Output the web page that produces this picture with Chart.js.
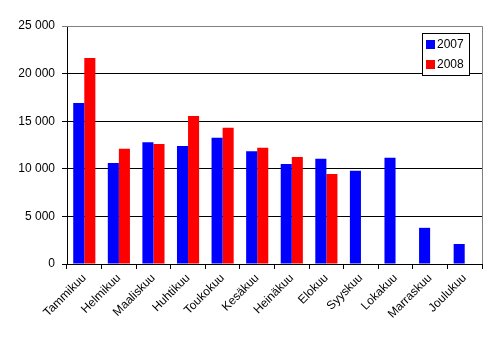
<!DOCTYPE html>
<html><head><meta charset="utf-8">
<script src="https://cdn.jsdelivr.net/npm/chart.js@4"></script>
<style>html,body{margin:0;padding:0;background:#fff}#wrap{width:497px;height:338px}</style>
</head><body><div id="wrap"><canvas id="c" width="497" height="338"></canvas></div>
<script>
const categories = ["Tammikuu","Helmikuu","Maaliskuu","Huhtikuu","Toukokuu","Kesäkuu","Heinäkuu","Elokuu","Syyskuu","Lokakuu","Marraskuu","Joulukuu"];
const values2007 = [16900,10600,12800,12400,13250,11850,10500,11050,9800,11150,3800,2100];
const values2008 = [21650,12100,12600,15550,14300,12200,11250,9450,null,null,null,null];
const seriesLabels = ["2007","2008"];
const yMax = 25000, yStep = 5000;

const fmt = v => String(v).replace(/\B(?=(\d{3})+(?!\d))/g, ' ');
const FONT = "'Liberation Sans', Arial, sans-serif";

const frame = {
  id: 'frame',
  afterDatasetsDraw(chart) {
    const {ctx, chartArea: a} = chart;
    ctx.save();
    ctx.strokeStyle = '#808080'; ctx.lineWidth = 1;
    ctx.beginPath();
    ctx.moveTo(a.left, a.top + 0.5); ctx.lineTo(a.right + 0.5, a.top + 0.5); ctx.lineTo(a.right + 0.5, a.bottom);
    ctx.stroke();
    // legend
    const x0 = 422, y0 = 33, w = 47, h = 42;
    ctx.fillStyle = '#fff'; ctx.fillRect(x0, y0, w, h);
    ctx.strokeStyle = '#000'; ctx.strokeRect(x0 + 0.5, y0 + 0.5, w, h);
    ctx.font = "12px " + FONT; ctx.textBaseline = 'middle'; ctx.textAlign = 'left';
    chart.data.datasets.forEach((ds, i) => {
      const cy = y0 + 11 + i * 20;
      ctx.fillStyle = ds.backgroundColor;
      ctx.fillRect(x0 + 4, cy - 4, 9, 9);
      ctx.fillStyle = '#000';
      ctx.fillText(ds.label, x0 + 15, cy + 1);
    });
    ctx.restore();
  }
};

new Chart(document.getElementById('c'), {
  type: 'bar',
  data: {
    labels: categories,
    datasets: [
      {label: seriesLabels[0], data: values2007, backgroundColor: '#0000FF'},
      {label: seriesLabels[1], data: values2008, backgroundColor: '#FF0000'}
    ]
  },
  options: {
    responsive: false, animation: false,
    layout: {padding: {top: 26, right: 15, left: 0, bottom: 0}},
    datasets: {bar: {categoryPercentage: 0.64, barPercentage: 1.0, borderWidth: 0}},
    plugins: {legend: {display: false}, tooltip: {enabled: false}},
    scales: {
      x: {
        grid: {offset: true, drawOnChartArea: false, drawTicks: true, tickLength: 5, color: '#000'},
        border: {color: '#000', width: 1},
        ticks: {maxRotation: 45, minRotation: 45, autoSkip: false, color: '#000', padding: 2,
                font: {family: FONT, size: 12}},
        afterFit(s) { s.height = 74; }
      },
      y: {
        min: 0, max: yMax,
        grid: {color: ctx => (ctx.tick && ctx.tick.value === yMax) ? '#808080' : '#000', tickLength: 5, lineWidth: 1},
        border: {color: '#000', width: 1},
        ticks: {stepSize: yStep, color: '#000', padding: 7, font: {family: FONT, size: 12},
                callback: v => fmt(v)},
        afterFit(s) { s.width = 67; }
      }
    }
  },
  plugins: [frame]
});
</script></body></html>
